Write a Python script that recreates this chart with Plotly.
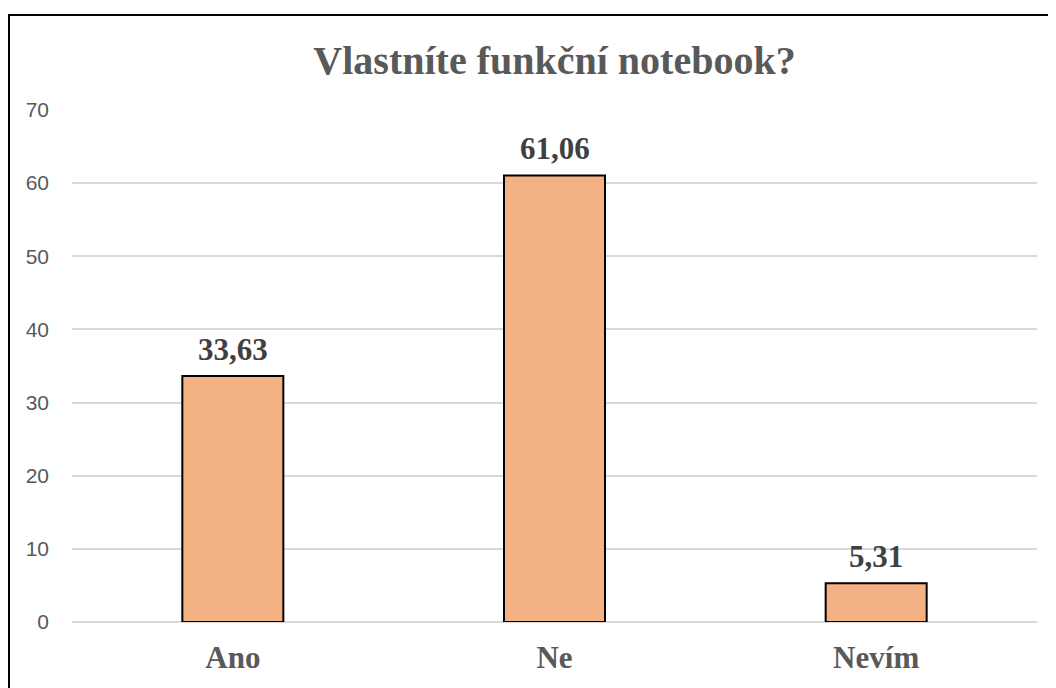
import plotly.graph_objects as go

categories = ["Ano", "Ne", "Nevím"]
values = [33.63, 61.06, 5.31]
y_ticks = [0, 10, 20, 30, 40, 50, 60, 70]

serif = "Liberation Serif"
labels = [f"{v:.2f}".replace(".", ",") for v in values]

fig = go.Figure()
fig.add_trace(go.Bar(
    x=categories,
    y=values,
    marker=dict(color="#F4B183", line=dict(color="#000000", width=2)),
    width=0.314,
))

# value labels above the bars
for c, v, t in zip(categories, values, labels):
    fig.add_annotation(
        x=c, y=v, text=t, showarrow=False,
        yanchor="bottom", yshift=7,
        font=dict(family=serif, size=31, color="#404040", weight="bold"),
    )

fig.update_layout(
    width=1056,
    height=688,
    margin=dict(l=64, r=27, t=102, b=74),
    paper_bgcolor="white",
    plot_bgcolor="white",
    showlegend=False,
    title=dict(
        text="Vlastníte funkční notebook?",
        font=dict(family=serif, size=40, color="#595959", weight="bold"),
        x=0.5, xref="paper", xanchor="center",
        y=1 - 52 / 688, yref="container", yanchor="middle",
    ),
    xaxis=dict(
        tickfont=dict(family=serif, size=31, color="#595959", weight="bold"),
        showgrid=False,
        showline=False,
        ticks="",
        ticklabelstandoff=14,
    ),
    yaxis=dict(
        range=[0, 70],
        tickvals=y_ticks,
        tickfont=dict(family="Liberation Sans", size=21, color="#595959"),
        gridcolor="#D9D9D9",
        gridwidth=1.5,
        zeroline=True,
        zerolinecolor="#D9D9D9",
        zerolinewidth=1.5,
        showline=False,
        ticks="",
        ticklabelstandoff=22,
    ),
    shapes=[dict(
        type="rect", xref="paper", yref="paper",
        x0=(1 - 64) / 965, x1=1.1, y0=-0.2, y1=1 + (102 - 7) / 512,
        line=dict(color="#000000", width=2),
        fillcolor="rgba(0,0,0,0)",
        layer="above",
    )],
)

fig.write_html("out.html")
